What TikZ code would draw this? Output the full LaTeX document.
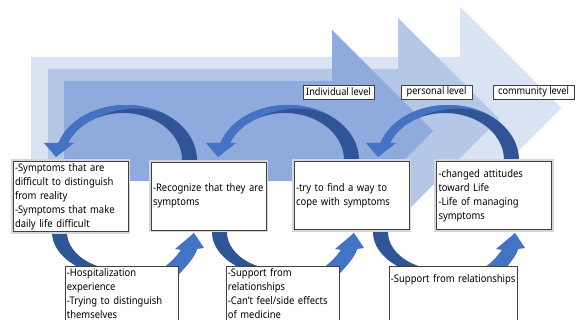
\documentclass[tikz,border=0pt]{standalone}
\usepackage{fontspec}
\setmainfont{Noto Sans}[FakeStretch=0.9]
\definecolor{chevA}{HTML}{DAE3F3}
\definecolor{chevB}{HTML}{B4C7E7}
\definecolor{chevC}{HTML}{8FAADC}
\definecolor{arrL}{HTML}{4472C4}
\definecolor{arrD}{HTML}{2F5597}
\definecolor{boxline}{HTML}{404040}
\definecolor{glow}{HTML}{D6D6D6}
\tikzset{
  tbox/.style={draw=boxline, line width=0.8pt, fill=white,
    minimum width=115pt, minimum height=68pt, text width=111pt,
    inner xsep=2pt, inner ysep=2pt, align=left,
    font=\fontsize{10.5}{14}\selectfont,
    preaction={draw=glow, line width=4.5pt}},
  bbox/.style={draw=boxline, line width=0.8pt, fill=white, anchor=north west,
    inner xsep=1.5pt, inner ysep=2pt, align=left, text depth=70pt,
    font=\fontsize{10.5}{14}\selectfont},
  lvl/.style={draw=boxline, line width=0.6pt, fill=white, inner sep=0pt,
    minimum height=14pt, font=\fontsize{10.2}{11}\selectfont}
}
\begin{document}
\begin{tikzpicture}[x=1pt,y=-1pt]
\useasboundingbox (0,0) rectangle (586,320);
\fill[white] (0,0) rectangle (586,320);
% background chevrons
\fill[chevA] (31,57) -- (460,57) -- (460,7) -- (561,108) -- (460,209) -- (460,159) -- (31,159) -- cycle;
\fill[chevB] (48,69) -- (398,69) -- (398,18) -- (499,119) -- (398,220) -- (398,169) -- (48,169) -- cycle;
\fill[chevC] (64,81) -- (332,81) -- (332,30) -- (433,131) -- (332,232) -- (332,181) -- (64,181) -- cycle;
% top curved arrows
\foreach \ox in {0,162,322}{
  \fill[arrD] ({58+\ox},143)
    -- plot[domain=162:0,samples=40,variable=\t] ({126+\ox+71*cos(\t)},{160-55*sin(\t)})
    -- ({197+\ox},166) -- ({182+\ox},166)
    -- plot[domain=0:158.8,samples=40,variable=\t] ({123+\ox+59*cos(\t)},{160-47*sin(\t)})
    -- cycle;
  \fill[arrL] ({58+\ox},143)
    -- plot[domain=162:40,samples=40,variable=\t] ({126+\ox+71*cos(\t)},{160-55*sin(\t)})
    .. controls ({160+\ox},104) and ({120+\ox},104) .. ({92+\ox},120)
    -- plot[domain=121.7:158.8,samples=20,variable=\t] ({123+\ox+59*cos(\t)},{160-47*sin(\t)})
    -- cycle;
  \fill[arrL] ({44+\ox},143) -- ({74+\ox},143) -- ({56+\ox},157) -- cycle;
}
% bottom curved arrows
\foreach \ox in {0,160,321}{
  \fill[arrD] ({52+\ox},222)
    -- plot[domain=180:240,samples=30,variable=\t] ({122+\ox+70*cos(\t)},{232-45*sin(\t)})
    .. controls ({110+\ox},295) and ({160+\ox},295) .. ({175+\ox},278)
    .. controls ({188+\ox},265) and ({195+\ox},256) .. ({197+\ox},249)
    -- ({181+\ox},250)
    .. controls ({176+\ox},257) and ({170+\ox},264) .. ({160+\ox},270)
    .. controls ({140+\ox},282) and ({115+\ox},278) .. ({103.2+\ox},267.7)
    -- plot[domain=250:180,samples=30,variable=\t] ({122+\ox+55*cos(\t)},{232-38*sin(\t)})
    -- ({67+\ox},222) -- cycle;
  \fill[arrL] ({175+\ox},278)
    .. controls ({188+\ox},265) and ({195+\ox},256) .. ({197+\ox},249)
    -- ({204+\ox},248) -- ({194+\ox},233) -- ({175+\ox},249) -- ({181+\ox},250)
    .. controls ({176+\ox},257) and ({170+\ox},264) .. ({160+\ox},270) -- cycle;
}
% top boxes
\node[tbox] (s1) at (70.5,196.5) {-Symptoms that are\\difficult to distinguish\\from reality\\-Symptoms that make\\daily life difficult};
\node[tbox] (s2) at (208.5,196) {-Recognize that they are\\symptoms};
\node[tbox] (s3) at (351.5,195.5) {-try to find a way to\\cope with symptoms};
\node[tbox] (s4) at (494,195.5) {-changed attitudes\\toward Life\\-Life of managing\\symptoms};
% bottom boxes
\node[bbox, text width=110pt] (f1) at (65,266) {-Hospitalization\\experience\\-Trying to distinguish\\themselves};
\node[bbox, text width=110pt] (f2) at (226,266) {-Support from\\relationships\\-Can't feel/side effects\\of medicine};
\node[bbox, text width=125pt, inner ysep=8pt] (f3) at (389,266) {-Support from relationships};
% level labels
\node[lvl, minimum width=71pt] (l1) at (338.5,92) {Individual level};
\node[lvl, minimum width=71pt] (l2) at (436.5,92) {personal level};
\node[lvl, minimum width=81pt] (l3) at (533.5,92) {community level};
\end{tikzpicture}
\end{document}
